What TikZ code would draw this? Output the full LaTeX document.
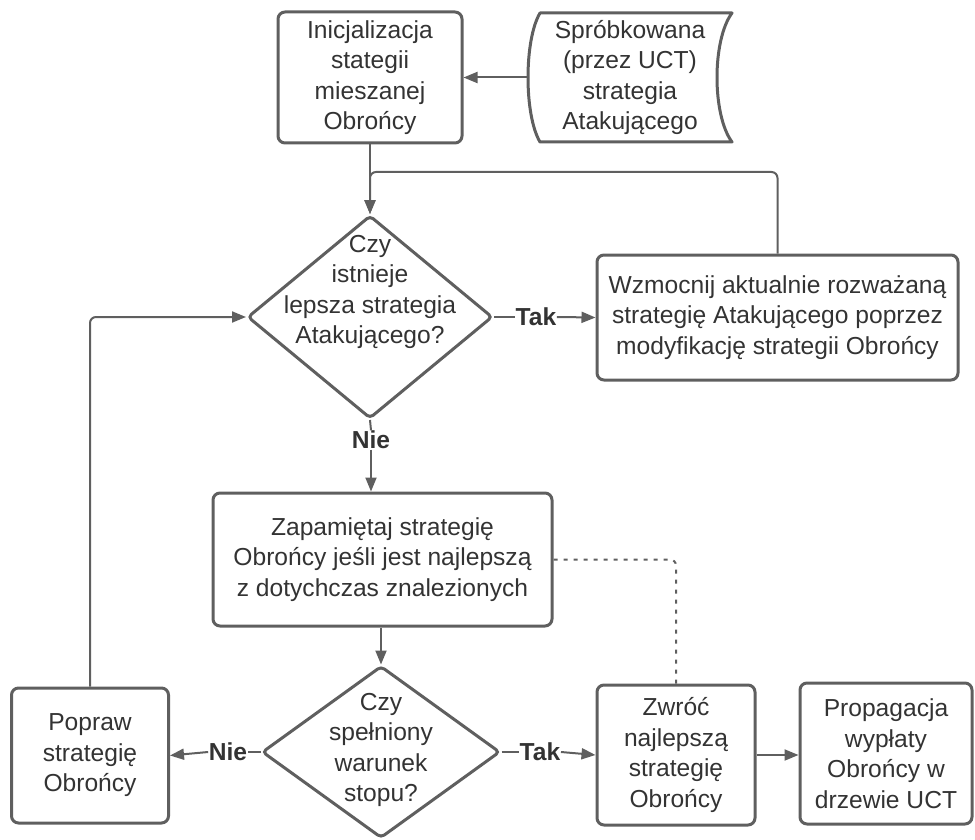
\documentclass[tikz,border=0pt]{standalone}
\usepackage{fontspec}
\setmainfont{Liberation Sans}
\usetikzlibrary{arrows.meta,shapes.geometric}
\definecolor{linegray}{RGB}{95,95,95}
\definecolor{textgray}{RGB}{51,51,51}
\begin{document}
\begin{tikzpicture}[x=1pt,y=-1pt,
  font=\fontsize{24.6}{30.5}\selectfont, text=textgray,
  box/.style={draw=linegray, line width=3pt, rounded corners=7pt, align=center, inner sep=0pt},
  decision/.style={diamond, draw=linegray, line width=3pt, rounded corners=4pt, inner sep=0pt},
  flow/.style={draw=linegray, line width=2pt, -{Triangle[length=14pt,width=11pt]}},
  link/.style={draw=linegray, line width=2pt},
  answer/.style={font=\fontsize{24.6}{30}\selectfont\bfseries, inner sep=0.5pt},
  txt/.style={align=center, inner sep=0pt}]
\useasboundingbox (0,0) rectangle (975,840);

% process boxes
\node[box, minimum width=184pt, minimum height=131pt] (init) at (370,77.5)
  {Inicjalizacja\\stategii\\mieszanej\\Obrońcy};
\node[box, minimum width=361pt, minimum height=125pt] (wz) at (777.5,317.5)
  {Wzmocnij aktualnie rozważaną\\strategię Atakującego poprzez\\modyfikację strategii Obrońcy};
\node[box, minimum width=339pt, minimum height=133pt] (zap) at (382.5,559.5)
  {Zapamiętaj strategię\\Obrońcy jeśli jest najlepszą\\z dotychczas znalezionych};
\node[box, minimum width=157pt, minimum height=135pt] (pop) at (90,755.5)
  {Popraw\\strategię\\Obrońcy};
\node[box, minimum width=158pt, minimum height=140pt] (zw) at (676,755)
  {Zwróć\\najlepszą\\strategię\\Obrońcy};
\node[box, minimum width=172pt, minimum height=141pt] (prop) at (886,753.5)
  {Propagacja\\wypłaty\\Obrońcy w\\drzewie UCT};

% stored data shape
\draw[linegray, line width=3pt, line join=round]
  (540,13) -- (732,13) .. controls (712,40) and (712,115) .. (732,142)
  -- (540,142) .. controls (524,115) and (524,40) .. (540,13) -- cycle;
\node[txt, minimum width=204pt, minimum height=129pt] (st) at (630,77.5)
  {Spróbkowana\\(przez UCT)\\strategia\\Atakującego};

% decisions
\node[decision, minimum width=245pt, minimum height=203pt] (d1) at (370,317) {};
\node[txt] (d1t) at (370,292) {Czy\\istnieje\\lepsza strategia\\Atakującego?};
\node[decision, minimum width=238pt, minimum height=172pt] (d2) at (381,752) {};
\node[txt] (d2t) at (381,750) {Czy\\spełniony\\warunek\\stopu?};

% answer labels
\node[answer] (tak1) at (536,317) {Tak};
\node[answer] (nie1) at (371,440) {Nie};
\node[answer] (nie2) at (228,752) {Nie};
\node[answer] (tak2) at (540,752) {Tak};

\coordinate (j1) at (370,172);

% connectors
\draw[flow] (st.west) -- (init.east);
\draw[flow] (init.south) -- (d1.north);
\draw[flow, rounded corners=6pt] (wz.north) |- (j1) -- (d1.north);
\draw[link] (d1.east) -- (tak1.west);
\draw[flow] (tak1.east) -- (wz.west);
\draw[link] (d1.south) -- (nie1.north);
\draw[flow] (nie1.south) -- (nie1.south |- zap.north);
\draw[flow] (d2.north |- zap.south) -- (d2.north);
\draw[link] (d2.west) -- (nie2.east);
\draw[flow] (nie2.west) -- (pop.east);
\draw[link] (d2.east) -- (tak2.west);
\draw[flow] (tak2.east) -- (zw.west);
\draw[flow] (zw.east) -- (prop.west |- zw.east);
\draw[flow, rounded corners=6pt] (pop.north) |- (d1.west);
\draw[link, dash pattern=on 4pt off 6pt, rounded corners=6pt] (zap.east) -| (zw.north);
\end{tikzpicture}
\end{document}
